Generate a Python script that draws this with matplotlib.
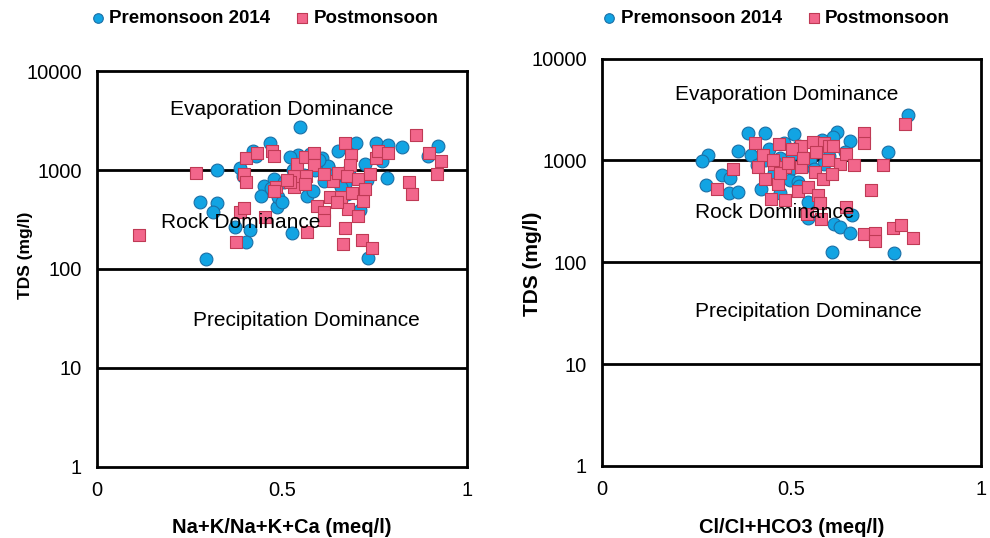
import numpy as np
import matplotlib
matplotlib.use("Agg")
import matplotlib.pyplot as plt
from matplotlib.ticker import FixedLocator, FixedFormatter, NullLocator

# ── Gibbs diagram data (ratio, TDS mg/l) ──────────────────────────────────────
# cation ratio Na+K/(Na+K+Ca)
cat_pre_x = [0.547, 0.468, 0.420, 0.323, 0.386, 0.278, 0.323, 0.313, 0.373, 0.414,
             0.403, 0.295, 0.526, 0.450, 0.477, 0.443, 0.486, 0.490, 0.567, 0.544,
             0.623, 0.652, 0.699, 0.754, 0.787, 0.823, 0.921, 0.893, 0.769, 0.783,
             0.724, 0.731, 0.709, 0.670, 0.612, 0.607, 0.624, 0.584, 0.675, 0.530,
             0.560, 0.590, 0.640, 0.505, 0.470, 0.395, 0.430, 0.500, 0.600, 0.680,
             0.520, 0.575, 0.730, 0.660]
cat_pre_tds = [2750, 1870, 1550, 1000, 1055, 472, 462, 376, 266, 246,
               189, 126, 229, 692, 807, 550, 422, 530, 550, 1430,
               1070, 1570, 1870, 1870, 1800, 1700, 1760, 1380, 1230, 840,
               1140, 129, 390, 730, 775, 1320, 1100, 620, 570, 1000,
               900, 1000, 900, 750, 660, 880, 1400, 470, 1250, 1000,
               1350, 1450, 800, 680]

cat_post_x = [0.114, 0.267, 0.375, 0.386, 0.397, 0.397, 0.402, 0.402, 0.432, 0.472,
              0.479, 0.484, 0.477, 0.454, 0.532, 0.531, 0.540, 0.562, 0.585, 0.587,
              0.565, 0.562, 0.567, 0.594, 0.612, 0.612, 0.630, 0.637, 0.650, 0.659,
              0.670, 0.686, 0.684, 0.675, 0.677, 0.670, 0.664, 0.689, 0.706, 0.706,
              0.718, 0.724, 0.715, 0.742, 0.738, 0.754, 0.758, 0.786, 0.862, 0.896,
              0.929, 0.918, 0.843, 0.850, 0.522, 0.513, 0.612, 0.648]
cat_post_tds = [220, 940, 189, 376, 415, 906, 748, 1330, 1490, 1550,
                1380, 680, 617, 335, 667, 870, 1140, 1350, 1490, 1120,
                870, 720, 237, 437, 376, 310, 530, 766, 940, 530,
                1870, 1430, 1120, 870, 405, 257, 177, 580, 807, 347,
                490, 641, 196, 164, 906, 1330, 1550, 1490, 2270, 1490,
                1230, 919, 760, 572, 748, 800, 906, 480]

# anion ratio Cl/(Cl+HCO3)
an_pre_x = [0.807, 0.754, 0.607, 0.770, 0.384, 0.431, 0.506, 0.620, 0.653, 0.280,
            0.265, 0.360, 0.317, 0.338, 0.275, 0.334, 0.360, 0.420, 0.495, 0.517,
            0.543, 0.613, 0.627, 0.653, 0.659, 0.543, 0.394, 0.410, 0.500, 0.470,
            0.587, 0.610, 0.440, 0.480, 0.520, 0.550, 0.455, 0.560, 0.500, 0.600,
            0.430, 0.520, 0.470, 0.580, 0.640]
an_pre_tds = [2790, 1206, 127, 124, 1840, 1880, 1820, 1890, 1570, 1120,
              980, 1250, 712, 680, 570, 475, 490, 520, 638, 612,
              270, 240, 223, 192, 290, 390, 1120, 900, 1150, 1050,
              930, 1700, 1300, 1500, 1400, 1000, 750, 820, 850, 1100,
              1000, 560, 480, 1600, 1200]

an_post_x = [0.800, 0.692, 0.692, 0.741, 0.710, 0.644, 0.692, 0.719, 0.719, 0.767,
             0.789, 0.820, 0.345, 0.304, 0.405, 0.424, 0.411, 0.429, 0.464, 0.468,
             0.455, 0.483, 0.524, 0.517, 0.446, 0.484, 0.543, 0.525, 0.556, 0.587,
             0.600, 0.565, 0.561, 0.583, 0.627, 0.644, 0.666, 0.606, 0.569, 0.574,
             0.578, 0.540, 0.450, 0.500, 0.530, 0.470, 0.595, 0.610, 0.490]
an_post_tds = [2280, 1860, 1490, 907, 509, 350, 188, 192, 163, 219,
               232, 174, 817, 521, 1490, 1120, 861, 652, 591, 1455,
               927, 872, 872, 498, 416, 406, 550, 1380, 1530, 1490,
               1380, 1200, 770, 660, 927, 1160, 894, 742, 455, 378,
               265, 300, 1000, 1300, 1050, 760, 1000, 1400, 950]

Y_TICKS = [1, 10, 100, 1000, 10000]
Y_LABELS = ["1", "10", "100", "1000", "10000"]
X_TICKS = [0, 0.5, 1]
X_LABELS = ["0", "0.5", "1"]

BLUE, BLUE_EDGE = "#12A4E3", "#1B6FA6"
PINK, PINK_EDGE = "#F2668B", "#BF3A55"

plt.rcParams["font.family"] = ["Liberation Sans", "DejaVu Sans"]

fig = plt.figure(figsize=(9.9, 5.38), dpi=100)

panels = [
    dict(rect=[0.098, 0.132, 0.374, 0.736], pre=(cat_pre_x, cat_pre_tds),
         post=(cat_post_x, cat_post_tds), xlabel="Na+K/Na+K+Ca (meq/l)",
         evap=(0.50, 4040), rock=(0.173, 292), prec=(0.26, 30),
         ylab_xy=(-0.173, 0.535), ylab_size=12.5, xlab_y=-0.128, leg_dx=-0.017),
    dict(rect=[0.608, 0.134, 0.383, 0.757], pre=(an_pre_x, an_pre_tds),
         post=(an_post_x, an_post_tds), xlabel="Cl/Cl+HCO3 (meq/l)",
         evap=(0.488, 4440), rock=(0.246, 309), prec=(0.246, 33),
         ylab_xy=(-0.159, 0.496), ylab_size=15, xlab_y=-0.128, leg_dx=-0.015),
]

for p in panels:
    ax = fig.add_axes(p["rect"])
    ax.set_yscale("log")
    ax.set_xlim(0, 1)
    ax.set_ylim(1, 10000)

    for yv in Y_TICKS[1:-1]:
        ax.axhline(yv, color="black", linewidth=2, zorder=1)

    ax.scatter(*p["pre"], s=85, marker="o", facecolor=BLUE, edgecolor=BLUE_EDGE,
               linewidth=0.8, zorder=3, label="Premonsoon 2014")
    ax.scatter(*p["post"], s=75, marker="s", facecolor=PINK, edgecolor=PINK_EDGE,
               linewidth=0.8, zorder=4, label="Postmonsoon")

    ax.text(p["evap"][0], p["evap"][1], "Evaporation Dominance", ha="center",
            va="center", fontsize=15, zorder=5)
    ax.text(p["rock"][0], p["rock"][1], "Rock Dominance", ha="left",
            va="center", fontsize=15, zorder=5)
    ax.text(p["prec"][0], p["prec"][1], "Precipitation Dominance", ha="left",
            va="center", fontsize=15, zorder=5)

    ax.yaxis.set_major_locator(FixedLocator(Y_TICKS))
    ax.yaxis.set_major_formatter(FixedFormatter(Y_LABELS))
    ax.yaxis.set_minor_locator(NullLocator())
    ax.set_xticks(X_TICKS)
    ax.set_xticklabels(X_LABELS)
    ax.tick_params(length=0, labelsize=14.5, pad=11)
    ax.tick_params(axis="x", pad=10)

    for sp in ax.spines.values():
        sp.set_linewidth(2)
        sp.set_color("black")

    ax.set_xlabel(p["xlabel"], fontsize=14.5, fontweight="bold")
    ax.xaxis.set_label_coords(0.5, p["xlab_y"])
    ax.set_ylabel("TDS (mg/l)", fontsize=p["ylab_size"], fontweight="bold")
    ax.yaxis.set_label_coords(*p["ylab_xy"])

    bbox = ax.get_position()
    ax.legend(loc="center",
              bbox_to_anchor=(bbox.x0 + bbox.width / 2 + p["leg_dx"], 0.966),
              bbox_transform=fig.transFigure, ncol=2, frameon=False,
              prop=dict(size=13.5, weight="bold"), handlelength=0.6,
              handletextpad=0.3, columnspacing=1.4, markerscale=0.75,
              borderaxespad=0)

fig.savefig("out.png", dpi=100)
